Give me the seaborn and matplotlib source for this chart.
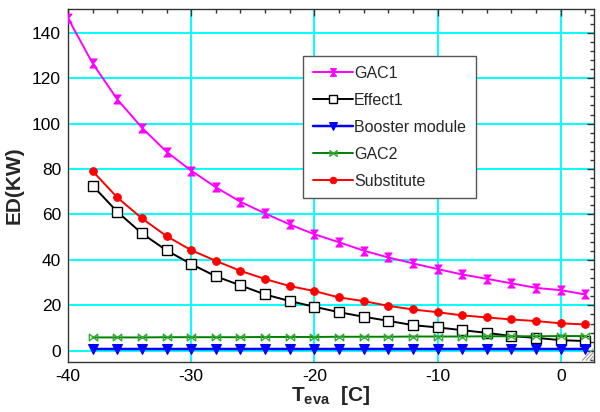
import numpy as np
import pandas as pd
import matplotlib
matplotlib.use("Agg")
import matplotlib.pyplot as plt
from matplotlib.path import Path
from matplotlib.ticker import MultipleLocator
import seaborn as sns

sns.set_style("white")
plt.rcParams["font.family"] = ["Liberation Sans", "DejaVu Sans"]
plt.rcParams["mathtext.fontset"] = "custom"
plt.rcParams["mathtext.rm"] = "Liberation Sans"
plt.rcParams["mathtext.bf"] = "Liberation Sans:bold"
plt.rcParams["mathtext.it"] = "Liberation Sans:italic"
plt.rcParams["axes.unicode_minus"] = False

# Evaporator temperature [C]
t_gac1 = [-40, -38, -36, -34, -32, -30, -28, -26, -24, -22, -20,
          -18, -16, -14, -12, -10, -8, -6, -4, -2, 0, 2]
t_eva = [-38, -36, -34, -32, -30, -28, -26, -24, -22, -20,
         -18, -16, -14, -12, -10, -8, -6, -4, -2, 0, 2]

# Exergy destruction ED [kW]
gac1 = [146.4, 126.5, 110.7, 98.2, 87.6, 79.3, 72.0, 65.6, 60.5, 55.6, 51.3,
        47.8, 44.1, 41.1, 38.5, 36.0, 33.6, 31.7, 29.7, 27.7, 26.7, 24.8]
effect1 = [72.7, 61.2, 51.7, 44.2, 38.2, 32.8, 28.8, 24.8, 21.9, 19.4,
           17.0, 15.0, 13.2, 11.3, 10.3, 9.1, 7.9, 6.5, 5.7, 4.7, 4.3]
booster = [0.6, 0.6, 0.6, 0.6, 0.6, 0.6, 0.6, 0.6, 0.6, 0.6,
           0.6, 0.6, 0.6, 0.6, 0.6, 0.6, 0.6, 0.6, 0.6, 0.6, 0.6]
gac2 = [5.9, 5.9, 5.9, 6.0, 6.0, 6.0, 6.0, 6.1, 6.1, 6.1,
        6.2, 6.2, 6.2, 6.3, 6.3, 6.3, 6.4, 6.4, 6.4, 6.5, 6.5]
substitute = [79.1, 67.5, 58.3, 50.5, 44.3, 39.6, 35.2, 31.6, 28.5, 26.3,
              23.5, 21.9, 19.8, 18.2, 17.0, 15.6, 14.7, 13.8, 13.1, 12.1, 11.6]

# Custom marker shapes: vertical hourglass and horizontal bow-tie
hourglass = Path([(-0.8, 1), (0.8, 1), (-0.8, -1), (0.8, -1), (-0.8, 1)],
                 [Path.MOVETO, Path.LINETO, Path.LINETO, Path.LINETO, Path.CLOSEPOLY])
bowtie = Path([(-1, 0.8), (-1, -0.8), (1, 0.8), (1, -0.8), (-1, 0.8)],
              [Path.MOVETO, Path.LINETO, Path.LINETO, Path.LINETO, Path.CLOSEPOLY])

fig = plt.figure(figsize=(6.0, 4.12), dpi=100)
ax = fig.add_axes([0.1133, 0.122, 0.8767, 0.8554])

lw = 1.4
sns.lineplot(x=t_gac1, y=gac1, ax=ax, color="#FF00FF", lw=lw, marker=hourglass,
             markersize=6.5, markerfacecolor="#FF00FF", markeredgecolor="#FF00FF",
             label="GAC1", zorder=5)
sns.lineplot(x=t_eva, y=effect1, ax=ax, color="black", lw=lw, marker="s",
             markersize=6.5, markerfacecolor="white", markeredgecolor="black",
             markeredgewidth=1.0, label="Effect1", zorder=4)
sns.lineplot(x=t_eva, y=booster, ax=ax, color="#0000FF", lw=lw + 0.4, marker="v",
             markersize=6.5, markerfacecolor="#0000FF", markeredgecolor="#0000FF",
             label="Booster module", zorder=4)
sns.lineplot(x=t_eva, y=gac2, ax=ax, color="#008000", lw=lw, marker=bowtie,
             markersize=6, markerfacecolor="none", markeredgecolor="#33AA33",
             markeredgewidth=1.0, label="GAC2", zorder=4)
sns.lineplot(x=t_eva, y=substitute, ax=ax, color="#FF0000", lw=lw, marker="o",
             markersize=5.5, markerfacecolor="#FF0000", markeredgecolor="#FF0000",
             label="Substitute", zorder=5)

ax.set_xlim(-40, 2.7)
ax.set_ylim(-4.8, 150.3)
ax.xaxis.set_major_locator(MultipleLocator(10))
ax.xaxis.set_minor_locator(MultipleLocator(2))
ax.yaxis.set_major_locator(MultipleLocator(20))
ax.yaxis.set_minor_locator(MultipleLocator(4))
ax.set_yticks(range(0, 141, 20))

ax.grid(True, which="major", color="#00FFFF", lw=1.4, zorder=0)
ax.set_axisbelow(True)
ax.tick_params(which="both", direction="in", top=True, right=True,
               colors="#333333", labelcolor="black", labelsize=12.5, pad=5)
ax.tick_params(which="major", length=5, width=1)
ax.tick_params(which="minor", length=3, width=1)
for sp in ax.spines.values():
    sp.set_color("#333333")
    sp.set_linewidth(1.0)

ax.set_ylabel("ED(KW)", fontsize=15, fontweight="bold", labelpad=6)
ax.set_xlabel(r"$\mathbf{T_{eva}}$  [C]", fontsize=15, fontweight="bold", labelpad=0)

leg = ax.legend(loc="upper left", bbox_to_anchor=(0.447, 0.867), fontsize=11.5,
                frameon=True, fancybox=False, framealpha=1, edgecolor="#555555",
                handlelength=2.5, handletextpad=0.1, labelspacing=0.75,
                borderpad=0.6, borderaxespad=0, markerscale=0.85)
leg.get_frame().set_linewidth(1.0)

# Resize grip in the lower right corner
for k in range(4):
    off = 0.007 * k
    ax.plot([0.978 + off, 0.998], [0.004, 0.036 - off * 1.5], transform=ax.transAxes,
            color="#999999", lw=0.8, zorder=6, clip_on=False)

fig.savefig("out.png", dpi=100)
